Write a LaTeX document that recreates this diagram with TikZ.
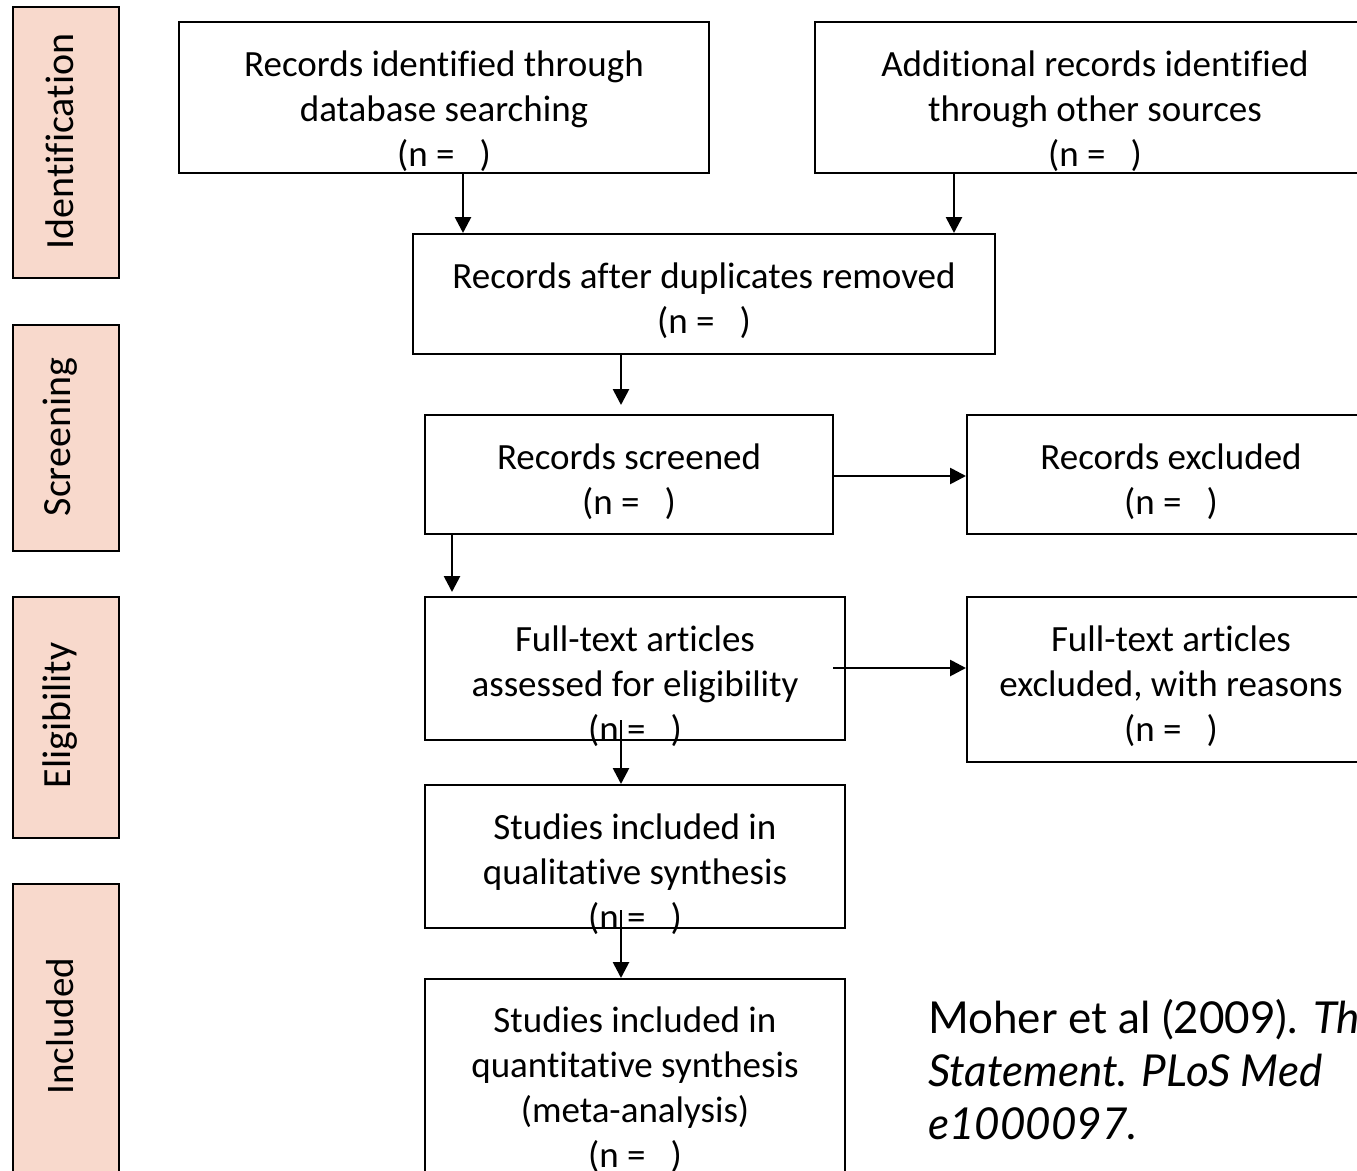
\documentclass[tikz,border=0pt]{standalone}
\usepackage{fontspec}
\setmainfont{Carlito}[Ligatures=NoCommon]
\newfontfamily\citefont{Lato}
\usetikzlibrary{arrows.meta}
\definecolor{phase}{RGB}{248,217,204}
\tikzset{
  box/.style={draw=black, line width=2pt, fill=white, inner sep=0pt},
  phasebox/.style={draw=black, line width=2pt, fill=phase, inner sep=0pt},
  txt/.style={align=center, inner sep=0pt, font=\fontsize{37}{45}\selectfont},
  phasetxt/.style={rotate=90, inner sep=0pt, font=\fontsize{40}{45}\selectfont},
  arr/.style={line width=2.7pt, -{Triangle[length=16pt,width=16pt]}},
  cite/.style={align=left, anchor=north west, inner sep=0pt, font=\citefont\fontsize{44}{53}\selectfont}
}
\begin{document}
\begin{tikzpicture}[x=1pt,y=-1pt]
\useasboundingbox (0,0) rectangle (1357,1170);
\clip (0,0) rectangle (1357,1170);
% phase boxes
\node[phasebox, minimum width=106pt, minimum height=271pt] (P1) at (66,142.5) {};
\node[phasetxt] (P1t) at (60,141.5) {Identification};
\node[phasebox, minimum width=106pt, minimum height=226pt] (P2) at (66,438) {};
\node[phasetxt] (P2t) at (60,437) {Screening};
\node[phasebox, minimum width=106pt, minimum height=241pt] (P3) at (66,717.5) {};
\node[phasetxt] (P3t) at (60,715.5) {Eligibility};
\node[phasebox, minimum width=106pt, minimum height=300pt] (P4) at (66,1034) {};
\node[phasetxt, font=\fontsize{39}{45}\selectfont] (P4t) at (60,1026) {Included};
% boxes
\node[box, minimum width=530pt, minimum height=151pt] (A) at (444,97.5) {};
\node[txt] (At) at (444,111.5) {Records identified through\\database searching\\(n = \ \ )};
\node[box, minimum width=560pt, minimum height=151pt] (B) at (1095,97.5) {};
\node[txt] (Bt) at (1095,111.5) {Additional records identified\\through other sources\\(n = \ \ )};
\node[box, minimum width=582pt, minimum height=120pt] (C) at (704,294) {};
\node[txt] (Ct) at (704,301) {Records after duplicates removed\\(n = \ \ )};
\node[box, minimum width=408pt, minimum height=119pt] (D) at (629,474.5) {};
\node[txt] (Dt) at (629,481.5) {Records screened\\(n = \ \ )};
\node[box, minimum width=410pt, minimum height=119pt] (E) at (1172,474.5) {};
\node[txt] (Et) at (1171,481.5) {Records excluded\\(n = \ \ )};
\node[box, minimum width=420pt, minimum height=143pt] (F) at (635,668.5) {};
\node[box, minimum width=410pt, minimum height=165pt] (G) at (1172,679.5) {};
\node[txt] (Gt) at (1171,686.5) {Full-text articles\\excluded, with reasons\\(n = \ \ )};
\node[box, minimum width=420pt, minimum height=143pt] (H) at (635,856.5) {};
\node[box, minimum width=420pt, minimum height=220pt] (I) at (635,1089) {};
\node[txt] (It) at (635,1090) {Studies included in\\quantitative synthesis\\(meta-analysis)\\(n = \ \ )};
% text overflowing box bottoms (drawn after the next boxes)
\node[txt] (Ft) at (635,686.5) {Full-text articles\\assessed for eligibility\\(n = \ \ )};
\node[txt] (Ht) at (635,874.5) {Studies included in\\qualitative synthesis\\(n = \ \ )};
% arrow anchor coordinates
\coordinate (xA) at (463,0);
\coordinate (xB) at (954,0);
\coordinate (xC) at (621,0);
\coordinate (xD) at (452,0);
\coordinate (yDE) at (0,476);
\coordinate (yFG) at (0,668);
\coordinate (sFG) at (833,668);
\coordinate (eCD) at (621,405);
\coordinate (eDF) at (452,592);
\coordinate (sFH) at (621,720);
\coordinate (sHI) at (621,910);
% connectors
\draw[arr] (A.south -| xA) -- (C.north -| xA);
\draw[arr] (B.south -| xB) -- (C.north -| xB);
\draw[arr] (C.south -| xC) -- (eCD);
\draw[arr] (D.south -| xD) -- (eDF);
\draw[arr] (D.east |- yDE) -- (E.west |- yDE);
\draw[arr] (sFG) -- (G.west |- yFG);
\draw[arr] (sFH) -- (H.north -| sFH);
\draw[arr] (sHI) -- (I.north -| sHI);
% citation
\node[cite] (cite) at (928,999) {Moher et al (2009). \textit{The PRISMA}\\\textit{Statement. PLoS Med}\\\textit{e1000097.}};
\end{tikzpicture}
\end{document}
